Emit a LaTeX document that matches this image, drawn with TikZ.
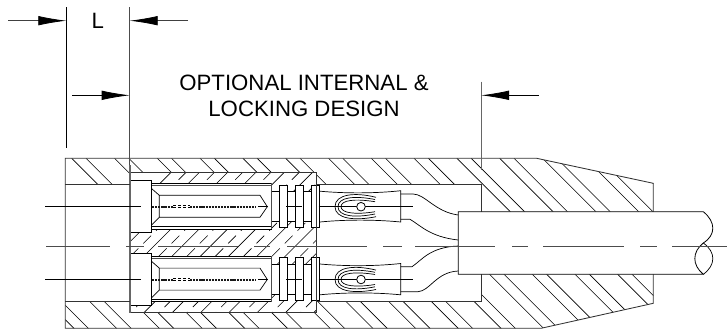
\documentclass[tikz,border=0pt]{standalone}
\usepackage{fontspec}
\setmainfont{Liberation Sans}
\usetikzlibrary{arrows.meta}
\tikzset{
 dimarrow/.style={line width=0.8pt,draw=black!75,-{Latex[length=28pt,width=9.5pt,black]},shorten >=0pt},
 ext/.style={line width=0.8pt,draw=black},
 body/.style={line width=0.85pt,draw=black!80},
 hatch/.style={line width=0.6pt,draw=black},
 part/.style={line width=0.8pt,draw=black,fill=white},
 thin part/.style={line width=0.7pt,draw=black},
 label/.style={font=\fontsize{22.2}{26}\selectfont,align=center,inner sep=0pt,text=black},
 centre/.style={line width=0.75pt,draw=black!70},
}
\newcommand{\contactset}[1]{%
 \begin{scope}[yshift=#1]
  \fill[white] (271.3,191.7) rectangle (318,221.7);
  \draw[thin part] (271.3,191.7) -- (318,191.7) (271.3,221.7) -- (318,221.7);
  \path[part] (151,183.3) rectangle (271.3,229);
  \draw[thin part,draw=black!70,line width=0.9pt] (151,185.6) -- (271.3,185.6);
  \draw[thin part] (151,226.5) -- (271.3,226.5);
  \draw[line width=1.1pt,black!70] (271.3,183.3) -- (271.3,229);
  \draw[thin part] (151.5,188.5) -- (159.3,195.3) -- (260,195.3) -- (267.3,206.7) -- (260,217.3) -- (159.3,217.3) -- (151.5,225) (159.3,195.3) -- (159.3,217.3);
  \path[part] (279.5,185) rectangle (287.5,227.3);
  \path[part] (295.3,185) rectangle (303,227.3);
  \path[part] (311.5,185) rectangle (319.7,227.3);
  \draw[thin part] (286,206.7) -- (302,206.7) (318.5,206.7) -- (413,206.7);
  \draw[thin part] (268,206.7) -- (258,206.7);
  \path[part] (130,180.7) rectangle (151,232.7);
  \draw[line width=2pt,black!90,dash pattern=on 2.2pt off 0.9pt] (190,206.7) -- (256,206.7);
  \draw[line width=2pt,black!90,dash pattern=on 2.2pt off 0.9pt] (152,206.7) -- (173,206.7);
  \draw[line width=.6pt,dash pattern=on 3pt off 2pt] (173,205.7) -- (190,205.7) (173,207.7) -- (190,207.7);
  \draw[thin part] (320,191.2) .. controls (345,193.5) and (375,193.5) .. (400.7,190.7) -- (400.7,222) .. controls (375,219.5) and (345,219.5) .. (320,222);
  \draw[thin part] (376,197.3) .. controls (355,192) and (335,194) .. (335,206.7) .. controls (335,219) and (355,221) .. (376,216.7);
  \draw[thin part] (375,199.5) .. controls (355,195.5) and (338,197) .. (338,206.7) .. controls (338,216.5) and (355,218) .. (375,214);
  \draw[thin part] (375,201.7) .. controls (355,198.5) and (341,200) .. (341,206.7) .. controls (341,213) and (355,215) .. (375,211.7);
  \path[part] (361,206.7) circle (4.3);
 \end{scope}}
\begin{document}
\begin{tikzpicture}[x=1pt,y=-1pt]
\useasboundingbox (0,0) rectangle (727,330);
\fill[white] (0,0) rectangle (727,330);
% ---------- outer shell hatching
\begin{scope}
 \clip (65.3,158.3) -- (536.7,158.3) -- (653.3,183.3) -- (653.3,211.7) -- (481,211.7) -- (481,184.3) -- (316.7,184.3) -- (316.7,172.7) -- (130,172.7) -- (130,184) -- (65.3,184) -- cycle;
 \foreach \k in {0,...,14} {
  \pgfmathsetmacro{\xa}{71.7+42.8*\k}
  \pgfmathsetmacro{\xb}{86+42.8*\k}
  \draw[hatch] (\xa,158.3) -- ++(70,70);
  \draw[hatch] (\xb,158.3) -- ++(70,70);
 }
\end{scope}
\begin{scope}
 \clip (65.3,301.7) -- (130,301.7) -- (130,312.7) -- (316.7,312.7) -- (316.7,301.5) -- (481,301.5) -- (481,274.3) -- (653.3,274.3) -- (653.3,303.3) -- (541,328.3) -- (65.3,328.3) -- cycle;
 \foreach \k in {-1,...,15} {
  \pgfmathsetmacro{\xa}{90+42.7*\k}
  \pgfmathsetmacro{\xb}{104.4+42.7*\k}
  \draw[hatch] (\xa,301.7) -- ++(-30,-30) -- ++(90,90);
  \draw[hatch] (\xb,301.7) -- ++(-30,-30) -- ++(90,90);
 }
\end{scope}
% ---------- insert hatching
\begin{scope}
 \clip (130,172.7) rectangle (316.7,312.7);
 \foreach \k in {-2,...,8} {
  \pgfmathsetmacro{\ca}{400+28.3*\k}
  \pgfmathsetmacro{\cb}{415+28.3*\k}
  \draw[hatch] (\ca-172,172) -- (\ca-313,313);
  \draw[hatch,dash pattern=on 11pt off 7pt] (\cb-172,172) -- (\cb-313,313);
 }
\end{scope}
% ---------- contacts
\contactset{0pt}
\contactset{-72.8pt}
% ---------- shell outline
\draw[body] (130,172.7) -- (316.7,172.7) -- (316.7,312.7) -- (130,312.7);
\draw[line width=1.1pt,black!60] (130,165) -- (130,312.7);
\draw[body] (65.3,184) -- (130,184) (65.3,301.7) -- (130,301.7);
\draw[body] (316.7,184.3) -- (481,184.3) -- (481,211.7);
\draw[body] (316.7,301) -- (481,301) -- (481,274.3);
\draw[body] (65.3,158.3) -- (536.7,158.3) -- (653.3,183.3) -- (653.3,303.3) -- (541,328.3) -- (65.3,328.3) -- cycle;
% ---------- wires
\draw[thin part] (400.7,194) -- (413,194) .. controls (425,194) and (435,212) .. (458.3,215);
\draw[thin part] (400.7,219.3) -- (410,219.3) .. controls (420,225) and (430,237) .. (458.3,240);
\draw[thin part] (400.7,266.7) -- (412,266.7) .. controls (422,260) and (430,247) .. (458.3,246);
\draw[thin part] (400.7,291.7) -- (418,291.7) .. controls (430,291) and (436,272) .. (458.3,271);
% ---------- cable
\path[part] (458.3,211.7) -- (703.3,211.7) .. controls (716,222) and (716,235) .. (703.3,243) .. controls (692,252) and (692,265) .. (703.3,274.3) -- (458.3,274.3) -- cycle;
\draw[thin part] (703.3,243) .. controls (716,252) and (716,265) .. (703.3,274.3);
% ---------- centre lines
\foreach \a/\b in {46/110,126/144,158/238,254/270,287/367,383/402,415/495,512/528,543/624,640/657,672/727}
 \draw[centre] (\a,246) -- (\b,246);
\draw[ext] (45.3,206.7) -- (141,206.7);
\draw[ext] (45.3,279.5) -- (141,279.5);
% ---------- dimension lines
\coordinate (eL) at (66.3,7);
\coordinate (eLb) at (66.3,148);
\coordinate (eR) at (129.7,7);
\coordinate (eRb) at (129.7,165);
\coordinate (eO) at (481,81.5);
\coordinate (eOb) at (481,170);
\draw[ext] (eL) -- (eLb);
\draw[ext,draw=black!70,line width=1pt] (eR) -- (eRb);
\draw[ext,draw=black!60,line width=1pt] (eO) -- (eOb);
\coordinate (t1) at (8,20.7);
\coordinate (t2) at (188,20.7);
\coordinate (t3) at (72,95.3);
\coordinate (t4) at (538.5,95.3);
\draw[dimarrow] (t1) -- (eL |- t1);
\draw[dimarrow] (t2) -- (eR |- t2);
\draw[dimarrow,draw=black] (t3) -- (eR |- t3);
\draw[dimarrow,draw=black] (t4) -- (eO |- t4);
% ---------- labels
\node[label] (lblL) at (97.7,21.2) {L};
\node[label] (lblO) at (304,95.8) {OPTIONAL INTERNAL \&\\LOCKING DESIGN};
\end{tikzpicture}
\end{document}
